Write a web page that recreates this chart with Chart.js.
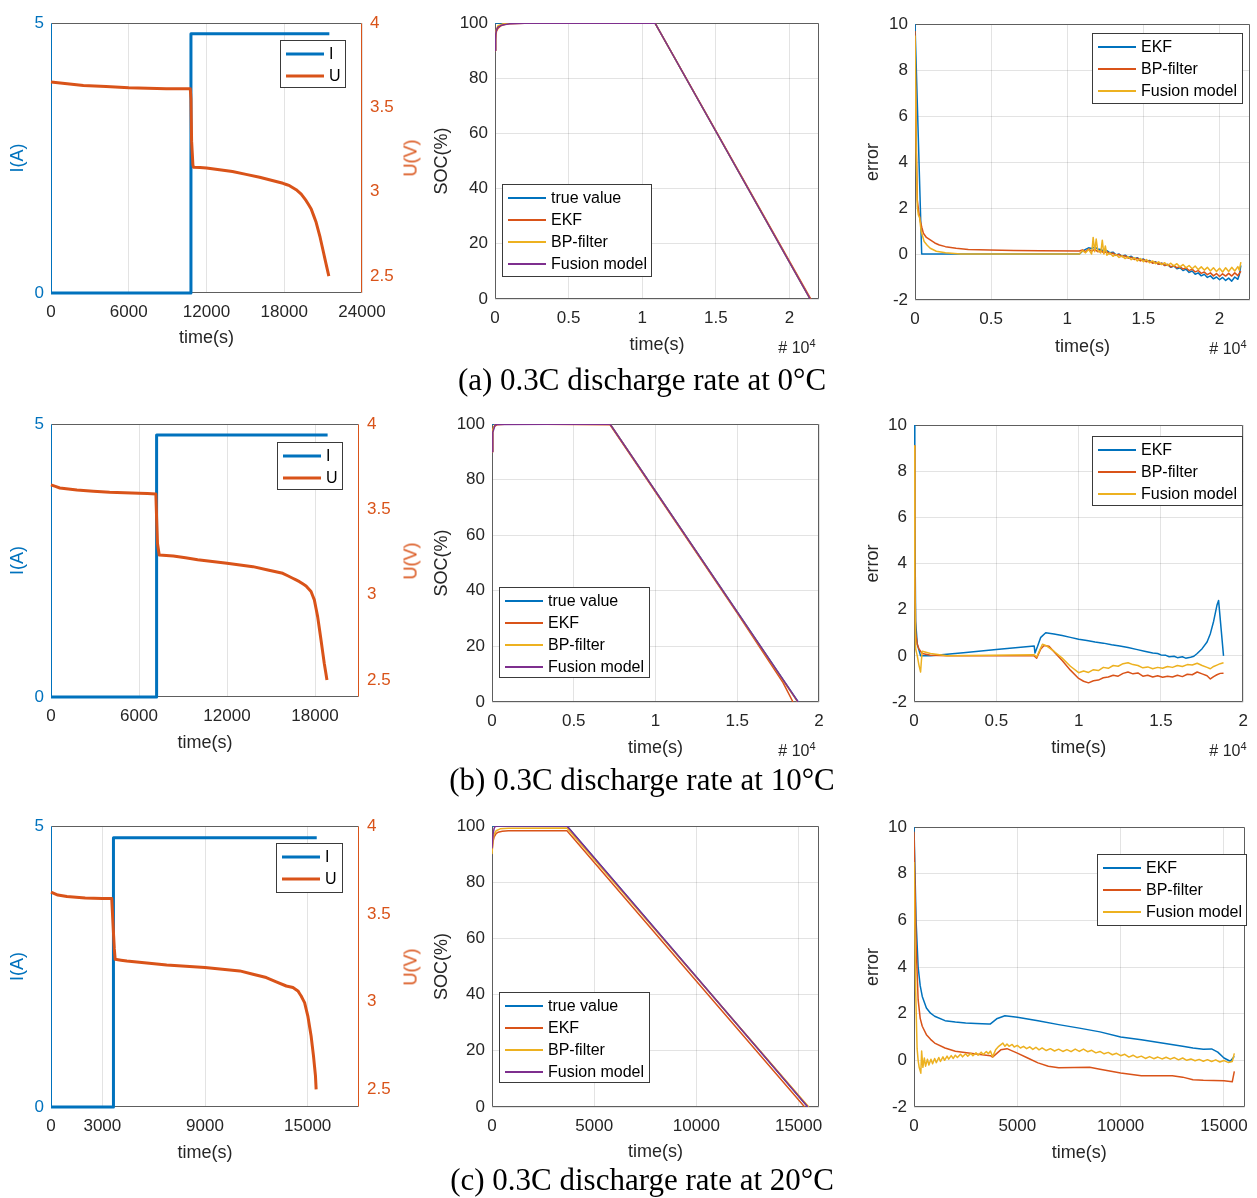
<!DOCTYPE html>
<html>
<head>
<meta charset="utf-8">
<script src="https://cdn.jsdelivr.net/npm/chart.js@4.4.0/dist/chart.umd.min.js"></script>
<style>
  body { margin: 0; background: #fff; width: 1257px; height: 1198px; position: relative; overflow: hidden;
         font-family: "Liberation Sans", Arial, sans-serif; }
  canvas { position: absolute; }
  .cap { position: absolute; font-family: "Liberation Serif", "Times New Roman", serif; font-size: 31px;
         color: #000; white-space: nowrap; transform: translate(-50%, -50%); }
  .exp { position: absolute; font-size: 16px; color: #262626; white-space: nowrap; transform: translate(-50%, -50%); }
  .exp sup { font-size: 11px; }
  .ulab { position: absolute; color: #D95319; font-size: 18px; white-space: nowrap;
          transform: translate(-50%, -50%) rotate(-90deg); }
</style>
</head>
<body>
<script>
const BLUE = '#0072BD', ORANGE = '#D95319', YELLOW = '#EDB120', PURPLE = '#7E2F8E';
const TXT = '#262626';
const GRID = 'rgba(38,38,38,0.13)';
Chart.defaults.font.family = '"Liberation Sans", Arial, sans-serif';

// ---- current / voltage (time in s) ----
const I_0C  = [[0, 0], [10800, 0], [10800, 4.8], [21480, 4.8]];
const U_0C  = [[0, 3.65], [2500, 3.63], [6000, 3.616], [8900, 3.61], [10750, 3.61], [10800, 3.55], [10850, 3.3],
               [10950, 3.16], [11000, 3.145], [12000, 3.141], [14000, 3.12], [16100, 3.086], [17900, 3.05],
               [18410, 3.036], [18920, 3.012], [19310, 2.986], [19690, 2.947], [20080, 2.898], [20460, 2.819],
               [20770, 2.729], [21030, 2.64], [21230, 2.571], [21440, 2.5]];
const I_10C = [[0, 0], [7200, 0], [7200, 4.8], [18860, 4.8]];
const U_10C = [[0, 3.643], [600, 3.625], [1766, 3.613], [4000, 3.6], [6000, 3.594], [7150, 3.59], [7200, 3.45],
               [7260, 3.3], [7380, 3.232], [8340, 3.226], [10000, 3.205], [12000, 3.184], [13770, 3.164],
               [15800, 3.125], [16480, 3.096], [16940, 3.076], [17390, 3.051], [17730, 3.018], [17955, 2.969],
               [18180, 2.871], [18410, 2.734], [18630, 2.598], [18815, 2.5]];
const I_20C = [[0, 0], [3650, 0], [3650, 4.79], [15530, 4.79]];
const U_20C = [[0, 3.624], [400, 3.607], [930, 3.598], [2000, 3.59], [3000, 3.587], [3550, 3.587], [3620, 3.45],
               [3700, 3.3], [3750, 3.241], [4430, 3.231], [6760, 3.209], [9000, 3.194], [11030, 3.175], [12580, 3.137],
               [13750, 3.089], [14140, 3.08], [14430, 3.061], [14620, 3.032], [14820, 2.994], [15010, 2.918],
               [15200, 2.805], [15340, 2.691], [15456, 2.577], [15495, 2.5]];

// ---- SOC (%) ----
const socTrue_0C   = [[0, 100], [1.086, 100], [2.14, 0]];
const socEKF_0C    = [[0, 90], [0.003, 94], [0.01, 97], [0.02, 98], [0.04, 99], [0.07, 99.5], [0.1, 99.7], [0.2, 99.9], [1.086, 100], [2.145, 0]];
const socBP_0C     = [[0, 90], [0.005, 97], [0.02, 99], [0.05, 99.6], [0.1, 100], [1.086, 100], [2.14, 0]];
const socFusion_0C = [[0, 90], [0.005, 96], [0.01, 97.5], [0.02, 98.5], [0.05, 99.3], [0.1, 99.7], [0.2, 99.9], [1.086, 100], [2.14, 0]];

const socTrue_10C   = [[0, 100], [0.722, 100], [1.873, 0]];
const socEKF_10C    = [[0, 90], [0.003, 97], [0.01, 99], [0.03, 99.7], [0.1, 100], [0.722, 99.7], [1.0, 75.5], [1.5, 32], [1.78, 7], [1.841, 0]];
const socBP_10C     = [[0, 90], [0.005, 98], [0.02, 100], [0.722, 100], [1.87, 0]];
const socFusion_10C = [[0, 90], [0.005, 97], [0.02, 99.8], [0.722, 100], [1.872, 0]];

const socTrue_20C   = [[0, 100], [3668, 100], [15456, 0]];
const socEKF_20C    = [[0, 91], [50, 94.5], [100, 96], [200, 97.3], [300, 97.8], [500, 98.1], [800, 98.3], [3668, 98.3], [15300, 0]];
const socBP_20C     = [[0, 90], [50, 95], [100, 97], [200, 98.3], [400, 99], [800, 99.2], [3668, 99.3], [15500, 0]];
const socFusion_20C = [[0, 92], [50, 97], [100, 99], [150, 99.8], [300, 100], [3668, 100], [15456, 0]];

// ---- SOC error ----
const errEKF_0C = [[0, 10], [0.044, 0], [1.08, 0], [1.10, 0.12], [1.12, 0.2], [1.14, 0.27], [1.16, 0.24], [1.18, 0.3],
  [1.20, 0.22], [1.22, 0.2], [1.24, 0.12], [1.26, 0.15], [1.28, 0.05], [1.30, 0.08], [1.32, -0.04], [1.34, 0.0],
  [1.36, -0.1], [1.38, -0.05], [1.40, -0.15], [1.42, -0.1], [1.44, -0.2], [1.46, -0.16], [1.48, -0.26], [1.50, -0.22],
  [1.52, -0.32], [1.54, -0.28], [1.56, -0.38], [1.58, -0.34], [1.60, -0.45], [1.62, -0.4], [1.64, -0.5], [1.66, -0.46],
  [1.68, -0.58], [1.70, -0.52], [1.72, -0.64], [1.74, -0.6], [1.76, -0.72], [1.78, -0.66], [1.80, -0.8], [1.82, -0.74],
  [1.84, -0.88], [1.86, -0.82], [1.88, -0.95], [1.90, -0.88], [1.92, -1.02], [1.94, -0.95], [1.96, -1.08], [1.98, -1.0],
  [2.00, -1.12], [2.02, -1.02], [2.04, -1.15], [2.06, -1.05], [2.08, -1.18], [2.10, -1.0], [2.12, -1.1], [2.13, -0.9], [2.14, -0.5]];
const errBP_0C = [[0, 9.7], [0.008, 5.0], [0.015, 2.35], [0.025, 1.8], [0.033, 1.48], [0.045, 1.15], [0.055, 0.9],
  [0.075, 0.72], [0.1, 0.61], [0.13, 0.48], [0.16, 0.39], [0.2, 0.32], [0.27, 0.25], [0.35, 0.2], [0.49, 0.17],
  [0.65, 0.15], [0.82, 0.14], [1.08, 0.13], [1.10, 0.18], [1.12, 0.1], [1.14, 0.22], [1.16, 0.12], [1.18, 0.2],
  [1.20, 0.1], [1.22, 0.15], [1.24, 0.05], [1.26, 0.1], [1.28, 0.0], [1.30, 0.04], [1.32, -0.06], [1.34, -0.02],
  [1.36, -0.12], [1.38, -0.08], [1.40, -0.18], [1.42, -0.14], [1.44, -0.24], [1.46, -0.18], [1.48, -0.3], [1.50, -0.24],
  [1.52, -0.34], [1.54, -0.3], [1.56, -0.4], [1.58, -0.35], [1.60, -0.45], [1.62, -0.4], [1.64, -0.5], [1.66, -0.45],
  [1.68, -0.56], [1.70, -0.5], [1.72, -0.6], [1.74, -0.55], [1.76, -0.66], [1.78, -0.6], [1.80, -0.72], [1.82, -0.66],
  [1.84, -0.78], [1.86, -0.72], [1.88, -0.84], [1.90, -0.78], [1.92, -0.9], [1.94, -0.82], [1.96, -0.95], [1.98, -0.85],
  [2.00, -0.98], [2.02, -0.86], [2.04, -0.96], [2.06, -0.84], [2.08, -0.96], [2.10, -0.82], [2.12, -0.94], [2.14, -0.75]];
const errFusion_0C = [[0, 9.5], [0.008, 4.5], [0.015, 2.06], [0.022, 1.7], [0.03, 1.6], [0.04, 1.0], [0.06, 0.54],
  [0.08, 0.38], [0.1, 0.25], [0.14, 0.12], [0.2, 0.05], [0.3, 0.0], [1.08, 0.0], [1.10, 0.15], [1.12, 0.05],
  [1.14, 0.2], [1.16, 0.0], [1.17, 0.72], [1.18, 0.1], [1.19, 0.65], [1.20, 0.15], [1.22, 0.05], [1.23, 0.6],
  [1.24, 0.0], [1.25, 0.35], [1.26, -0.05], [1.28, 0.05], [1.30, -0.1], [1.32, -0.02], [1.34, -0.15], [1.36, -0.08],
  [1.38, -0.2], [1.40, -0.12], [1.42, -0.25], [1.44, -0.16], [1.46, -0.3], [1.48, -0.2], [1.50, -0.34], [1.52, -0.24],
  [1.54, -0.38], [1.56, -0.3], [1.58, -0.42], [1.60, -0.34], [1.62, -0.46], [1.64, -0.38], [1.66, -0.5], [1.68, -0.4],
  [1.70, -0.52], [1.72, -0.42], [1.74, -0.56], [1.76, -0.46], [1.78, -0.6], [1.80, -0.5], [1.82, -0.64], [1.84, -0.52],
  [1.86, -0.68], [1.88, -0.56], [1.90, -0.7], [1.92, -0.58], [1.94, -0.74], [1.96, -0.6], [1.98, -0.76], [2.00, -0.62],
  [2.02, -0.78], [2.04, -0.6], [2.06, -0.76], [2.08, -0.58], [2.10, -0.74], [2.12, -0.55], [2.13, -0.7], [2.14, -0.35]];

const errEKF_10C = [[0, 10], [0.005, 6], [0.01, 1.5], [0.02, 0.5], [0.04, 0.0], [0.1, 0.0], [0.3, 0.13], [0.5, 0.27],
  [0.73, 0.43], [0.735, 0.12], [0.75, 0.4], [0.77, 0.8], [0.8, 1.0], [0.85, 0.95], [0.9, 0.88], [0.95, 0.8],
  [1.0, 0.72], [1.05, 0.66], [1.1, 0.6], [1.15, 0.55], [1.2, 0.48], [1.25, 0.43], [1.3, 0.36], [1.35, 0.28],
  [1.4, 0.2], [1.45, 0.12], [1.48, 0.1], [1.5, 0.04], [1.53, 0.02], [1.55, -0.04], [1.58, -0.02], [1.6, -0.08],
  [1.63, -0.04], [1.65, -0.1], [1.68, -0.06], [1.7, -0.02], [1.72, 0.1], [1.75, 0.31], [1.78, 0.6], [1.8, 0.96],
  [1.82, 1.5], [1.84, 2.19], [1.85, 2.4], [1.865, 1.2], [1.88, 0.0]];
const errBP_10C = [[0, 9.1], [0.005, 4.0], [0.01, 1.0], [0.02, 0.5], [0.03, 0.3], [0.05, 0.1], [0.1, 0.03], [0.2, 0.0],
  [0.73, 0.0], [0.745, -0.1], [0.77, 0.3], [0.79, 0.45], [0.82, 0.42], [0.86, 0.1], [0.9, -0.2], [0.95, -0.62],
  [1.0, -0.98], [1.03, -1.1], [1.06, -1.17], [1.09, -1.08], [1.12, -1.05], [1.15, -0.95], [1.18, -0.92], [1.21, -0.84],
  [1.24, -0.88], [1.27, -0.76], [1.3, -0.7], [1.33, -0.78], [1.36, -0.74], [1.39, -0.88], [1.42, -0.84], [1.45, -0.92],
  [1.48, -0.86], [1.51, -0.93], [1.54, -0.88], [1.57, -0.92], [1.6, -0.84], [1.63, -0.9], [1.66, -0.8], [1.69, -0.82],
  [1.72, -0.7], [1.75, -0.78], [1.78, -0.86], [1.8, -1.0], [1.82, -0.9], [1.84, -0.82], [1.86, -0.76], [1.88, -0.75]];
const errFusion_10C = [[0, 9.1], [0.005, 3.0], [0.01, 0.3], [0.02, 0.0], [0.03, -0.4], [0.04, -0.7], [0.045, -0.2],
  [0.05, 0.2], [0.1, 0.1], [0.2, 0.0], [0.73, 0.05], [0.745, -0.05], [0.78, 0.5], [0.8, 0.45], [0.85, 0.2],
  [0.9, -0.1], [0.95, -0.45], [1.0, -0.73], [1.03, -0.66], [1.06, -0.72], [1.09, -0.6], [1.12, -0.64], [1.15, -0.5],
  [1.18, -0.54], [1.21, -0.42], [1.24, -0.45], [1.27, -0.34], [1.3, -0.3], [1.33, -0.38], [1.36, -0.42], [1.39, -0.52],
  [1.42, -0.48], [1.45, -0.56], [1.48, -0.5], [1.51, -0.54], [1.54, -0.46], [1.57, -0.5], [1.6, -0.42], [1.63, -0.46],
  [1.66, -0.38], [1.69, -0.4], [1.72, -0.32], [1.75, -0.42], [1.78, -0.5], [1.8, -0.56], [1.82, -0.46], [1.84, -0.4],
  [1.86, -0.34], [1.88, -0.3]];

const errEKF_20C = [[0, 10], [100, 6], [200, 4.0], [300, 3.2], [400, 2.74], [600, 2.24], [800, 2.02], [1000, 1.89],
  [1500, 1.7], [2000, 1.64], [2500, 1.6], [3000, 1.58], [3600, 1.56], [3700, 1.56], [4000, 1.78], [4400, 1.91],
  [5000, 1.85], [6000, 1.7], [7000, 1.53], [8000, 1.38], [9000, 1.22], [10000, 1.0], [11000, 0.88], [12000, 0.74],
  [13000, 0.6], [13500, 0.53], [14000, 0.48], [14400, 0.49], [14700, 0.35], [15000, 0.1], [15300, -0.04], [15500, 0.17]];
const errBP_20C = [[0, 9.8], [100, 5], [200, 2.6], [300, 1.8], [400, 1.46], [600, 1.1], [800, 0.9], [1000, 0.74],
  [1500, 0.53], [2000, 0.39], [3000, 0.27], [3700, 0.2], [3800, 0.14], [4200, 0.45], [4500, 0.5], [5000, 0.31],
  [5500, 0.1], [6000, -0.11], [6500, -0.25], [7000, -0.32], [8500, -0.3], [9000, -0.38], [10000, -0.54],
  [11000, -0.66], [12500, -0.66], [13000, -0.72], [13500, -0.83], [14000, -0.85], [15000, -0.87], [15400, -0.92], [15500, -0.47]];
const errFusion_20C = [[0, 8.5], [80, 3.0], [150, 0.5], [200, 0.0], [250, -0.3], [330, -0.55], [370, 0.4], [430, -0.3],
  [500, 0.1], [560, -0.25], [650, 0.05], [720, -0.2], [820, 0.05], [900, -0.15], [1000, 0.08], [1080, -0.1],
  [1200, 0.12], [1280, -0.05], [1400, 0.15], [1480, 0.0], [1600, 0.18], [1680, 0.05], [1800, 0.2], [1900, 0.08],
  [2000, 0.22], [2100, 0.12], [2250, 0.26], [2350, 0.15], [2500, 0.28], [2600, 0.18], [2750, 0.3], [2850, 0.2],
  [3000, 0.32], [3100, 0.22], [3250, 0.35], [3350, 0.25], [3500, 0.38], [3600, 0.28], [3700, 0.4], [3800, 0.15],
  [3950, 0.45], [4100, 0.6], [4300, 0.74], [4400, 0.6], [4500, 0.7], [4600, 0.6], [4750, 0.68], [4850, 0.57],
  [5000, 0.64], [5150, 0.53], [5300, 0.6], [5450, 0.5], [5600, 0.58], [5750, 0.47], [5900, 0.56], [6050, 0.45],
  [6200, 0.53], [6400, 0.42], [6600, 0.5], [6800, 0.4], [7000, 0.48], [7200, 0.38], [7400, 0.46], [7600, 0.37],
  [7800, 0.48], [8000, 0.38], [8200, 0.48], [8400, 0.37], [8600, 0.43], [8800, 0.32], [9000, 0.38], [9200, 0.28],
  [9400, 0.34], [9600, 0.24], [9800, 0.3], [10000, 0.2], [10200, 0.26], [10400, 0.14], [10600, 0.22], [10800, 0.12],
  [11000, 0.18], [11200, 0.08], [11400, 0.16], [11600, 0.07], [11800, 0.14], [12000, 0.06], [12200, 0.13], [12400, 0.05],
  [12600, 0.12], [12800, 0.02], [13000, 0.1], [13200, 0.0], [13400, 0.06], [13600, -0.02], [13800, 0.04], [14000, -0.04],
  [14200, 0.03], [14400, -0.05], [14600, 0.02], [14800, -0.07], [15000, -0.01], [15200, -0.09], [15400, -0.05], [15500, 0.3]];

// ---- axis ticks ----
const xTicks_0C = [0, 6000, 12000, 18000, 24000];
const xTicks_10C = [0, 6000, 12000, 18000];
const xTicks_20C = [0, 3000, 9000, 15000];
const xTicksE4 = [0, 0.5, 1, 1.5, 2];
const xTicksSec = [0, 5000, 10000, 15000];
const iTicks = [0, 5];
const uTicks = [2.5, 3, 3.5, 4];
const socTicks = [0, 20, 40, 60, 80, 100];
const errTicks = [-2, 0, 2, 4, 6, 8, 10];

const captions = ['(a) 0.3C discharge rate at 0°C', '(b) 0.3C discharge rate at 10°C', '(c) 0.3C discharge rate at 20°C'];

// matlab-style box around the plot area, drawn under the data
const framePlugin = {
  id: 'frame',
  beforeDatasetsDraw(chart, args, o) {
    const { ctx, chartArea: a } = chart;
    const l = Math.round(a.left) + 0.5, r = Math.round(a.right) - 0.5;
    const t = Math.round(a.top) + 0.5, b = Math.round(a.bottom) - 0.5;
    ctx.save();
    ctx.lineWidth = 1;
    const seg = (x1, y1, x2, y2, c) => { ctx.strokeStyle = c; ctx.beginPath(); ctx.moveTo(x1, y1); ctx.lineTo(x2, y2); ctx.stroke(); };
    seg(l, t, r, t, o.color);
    seg(l, b, r, b, o.color);
    seg(l, t, l, b, o.left || o.color);
    seg(r, t, r, b, o.right || o.color);
    ctx.restore();
  }
};

// legend box inside the axes
const boxLegendPlugin = {
  id: 'boxLegend',
  afterDraw(chart, args, o) {
    if (!o.box) return;
    const { ctx } = chart;
    const [x, y, w, h] = o.box;
    ctx.save();
    ctx.fillStyle = '#fff';
    ctx.fillRect(x, y, w, h);
    ctx.strokeStyle = '#3a3a3a';
    ctx.lineWidth = 1;
    ctx.strokeRect(x + 0.5, y + 0.5, w, h);
    ctx.font = '16px "Liberation Sans", Arial, sans-serif';
    ctx.textBaseline = 'middle';
    o.items.forEach((it, i) => {
      const yy = y + 14 + i * 22;
      ctx.strokeStyle = it.color;
      ctx.lineWidth = o.lw;
      ctx.beginPath(); ctx.moveTo(x + 6, yy); ctx.lineTo(x + 44, yy); ctx.stroke();
      ctx.fillStyle = '#000';
      ctx.fillText(it.label, x + 49, yy + 1);
    });
    ctx.restore();
  }
};

const pts = arr => arr.map(([x, y]) => ({ x, y }));
const fmt = v => String(v);

function addText(cls, html, x, y) {
  const d = document.createElement('div');
  d.className = cls;
  d.innerHTML = html;
  d.style.left = x + 'px';
  d.style.top = y + 'px';
  document.body.appendChild(d);
}

function makePanel(p) {
  const [cl, ct, cw, ch] = p.canvas;
  const [L, T, R, B] = p.plot;
  const c = document.createElement('canvas');
  c.width = cw; c.height = ch;
  c.style.left = cl + 'px'; c.style.top = ct + 'px';
  c.style.width = cw + 'px'; c.style.height = ch + 'px';
  document.body.appendChild(c);

  const leftW = L - cl, bottomH = ct + ch - B, rightW = cl + cw - R;
  const titleLH = 18 * 1.2;

  const scales = {
    x: {
      type: 'linear', min: 0, max: p.xMax,
      afterFit: s => { s.height = bottomH; },
      afterBuildTicks: s => { s.ticks = p.xTicks.map(v => ({ value: v })); },
      grid: { color: GRID, drawTicks: false },
      border: { display: false },
      ticks: { color: TXT, font: { size: 17 }, padding: 9, maxRotation: 0, autoSkip: false, callback: fmt },
      title: { display: true, text: 'time(s)', color: TXT, font: { size: 18 },
               padding: { top: 0, bottom: ct + ch - p.xTitleY - titleLH / 2 } }
    },
    y: {
      type: 'linear', position: 'left', min: p.yRange[0], max: p.yRange[1],
      afterFit: s => { s.width = leftW; },
      afterBuildTicks: s => { s.ticks = p.yTicks.map(v => ({ value: v })); },
      grid: { display: !p.dual, color: GRID, drawTicks: false },
      border: { display: false },
      ticks: { color: p.dual ? BLUE : TXT, font: { size: 17 }, padding: 7, callback: fmt },
      title: { display: true, text: p.yTitle, color: p.dual ? BLUE : TXT, font: { size: 18 },
               padding: { top: p.yTitleX - cl - titleLH / 2, bottom: 0 } }
    }
  };
  if (p.dual) {
    scales.yU = {
      type: 'linear', position: 'right', min: 2.4, max: 4,
      afterFit: s => { s.width = rightW; },
      afterBuildTicks: s => { s.ticks = uTicks.map(v => ({ value: v })); },
      grid: { display: false, drawTicks: false },
      border: { display: false },
      ticks: { color: ORANGE, font: { size: 17 }, padding: 8, callback: fmt }
    };
  }

  const n = p.series.length;
  const datasets = p.series.map((s, i) => ({
    label: s.label,
    data: pts(s.data),
    borderColor: s.color,
    borderWidth: p.lw,
    borderJoinStyle: 'round',
    pointRadius: 0,
    tension: p.dual ? 0.0001 : 0,
    clip: p.dual ? 6 : undefined,
    yAxisID: s.axis || 'y',
    order: n - i
  }));

  const [bx, by, bw, bh] = p.legend;
  new Chart(c, {
    type: 'line',
    data: { datasets },
    options: {
      responsive: false,
      animation: false,
      devicePixelRatio: 1,
      layout: { autoPadding: false, padding: { left: 0, top: T - ct, right: p.dual ? 0 : rightW, bottom: 0 } },
      plugins: {
        legend: { display: false },
        tooltip: { enabled: false },
        frame: { color: '#5e5e5e', left: p.dual ? BLUE : null, right: p.dual ? ORANGE : null },
        boxLegend: {
          box: [bx - cl, by - ct, bw, bh], lw: p.legendLw || p.lw,
          items: p.series.map(s => ({ label: s.label, color: s.color }))
        }
      },
      scales
    },
    plugins: [framePlugin, boxLegendPlugin]
  });
}

const rows = [
  { top: 0, h: 370, ivData: [I_0C, U_0C], ivTicks: xTicks_0C, ivMax: 24000,
    soc: [socTrue_0C, socEKF_0C, socBP_0C, socFusion_0C], err: [errEKF_0C, errBP_0C, errFusion_0C],
    sX: xTicksE4, sMax: 2.2,
    A: { plot: [51, 23, 362, 293], xTitleY: 338, legend: [280, 40, 65, 47] },
    B: { plot: [495, 23, 819, 299], xTitleY: 345, legend: [502, 184, 149, 92] },
    C: { plot: [915, 24, 1250, 300], xTitleY: 347, legend: [1092, 33, 150, 70] },
    cap: 380, exp: [[797, 347], [1228, 348]] },
  { top: 400, h: 370, ivData: [I_10C, U_10C], ivTicks: xTicks_10C, ivMax: 21000,
    soc: [socTrue_10C, socEKF_10C, socBP_10C, socFusion_10C], err: [errEKF_10C, errBP_10C, errFusion_10C],
    sX: xTicksE4, sMax: 2,
    A: { plot: [51, 424, 359, 697], xTitleY: 743, legend: [277, 442, 65, 47] },
    B: { plot: [492, 424, 819, 702], xTitleY: 748, legend: [499, 587, 150, 90] },
    C: { plot: [914, 425, 1251, 702], xTitleY: 748, legend: [1092, 436, 150, 69] },
    cap: 780, exp: [[797, 750], [1228, 750]] },
  { top: 800, h: 375, ivData: [I_20C, U_20C], ivTicks: xTicks_20C, ivMax: 18000,
    soc: [socTrue_20C, socEKF_20C, socBP_20C, socFusion_20C], err: [errEKF_20C, errBP_20C, errFusion_20C],
    sX: xTicksSec, sMax: 16000,
    A: { plot: [51, 826, 359, 1107], xTitleY: 1153, legend: [276, 843, 66, 49] },
    B: { plot: [492, 826, 819, 1107], xTitleY: 1152, legend: [499, 992, 150, 90] },
    C: { plot: [914, 827, 1251, 1107], xTitleY: 1153, legend: [1097, 854, 149, 71] },
    cap: 1180, exp: [] }
];

rows.forEach((r, k) => {
  makePanel({
    canvas: [0, r.top, 420, r.h], plot: r.A.plot, xTitleY: r.A.xTitleY, yTitleX: 18, legend: r.A.legend,
    dual: true, lw: 3, xMax: r.ivMax, xTicks: r.ivTicks, yRange: [0, 5], yTicks: iTicks, yTitle: 'I(A)',
    series: [
      { label: 'I', data: r.ivData[0], color: BLUE },
      { label: 'U', data: r.ivData[1], color: ORANGE, axis: 'yU' }
    ]
  });
  makePanel({
    canvas: [420, r.top, 420, r.h], plot: r.B.plot, xTitleY: r.B.xTitleY, yTitleX: 442, legend: r.B.legend,
    lw: 1.5, legendLw: 2, xMax: r.sMax, xTicks: r.sX, yRange: [0, 100], yTicks: socTicks, yTitle: 'SOC(%)',
    series: [
      { label: 'true value', data: r.soc[0], color: BLUE },
      { label: 'EKF', data: r.soc[1], color: ORANGE },
      { label: 'BP-filter', data: r.soc[2], color: YELLOW },
      { label: 'Fusion model', data: r.soc[3], color: PURPLE }
    ]
  });
  makePanel({
    canvas: [840, r.top, 417, r.h], plot: r.C.plot, xTitleY: r.C.xTitleY, yTitleX: 873, legend: r.C.legend,
    lw: 1.5, legendLw: 2, xMax: r.sMax, xTicks: r.sX, yRange: [-2, 10], yTicks: errTicks, yTitle: 'error',
    series: [
      { label: 'EKF', data: r.err[0], color: BLUE },
      { label: 'BP-filter', data: r.err[1], color: ORANGE },
      { label: 'Fusion model', data: r.err[2], color: YELLOW }
    ]
  });
  addText('ulab', 'U(V)', 411, (r.A.plot[1] + r.A.plot[3]) / 2);
  addText('cap', captions[k], 642, r.cap);
  r.exp.forEach(([x, y]) => addText('exp', '# 10<sup>4</sup>', x, y));
});
</script>
</body>
</html>
